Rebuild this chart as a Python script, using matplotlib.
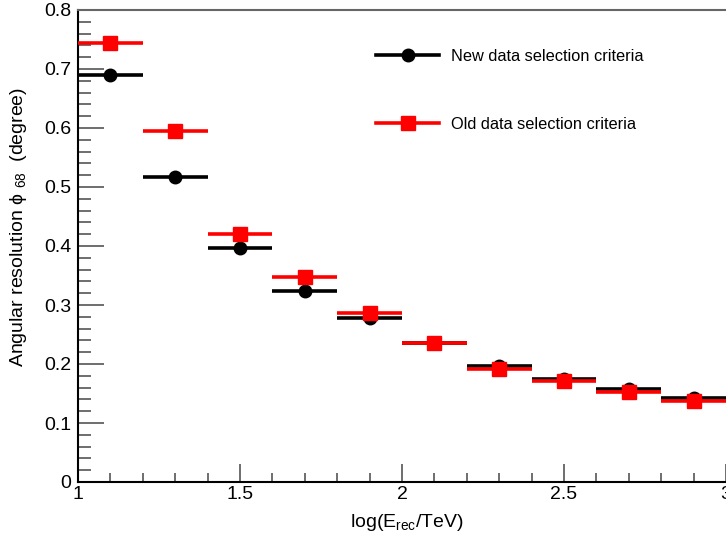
import matplotlib
matplotlib.use('Agg')

import matplotlib.pyplot as plt
from matplotlib.lines import Line2D
from matplotlib.ticker import MultipleLocator, FormatStrFormatter

# bin centres in log(E_rec/TeV), half width 0.1
log_e = [1.1, 1.3, 1.5, 1.7, 1.9, 2.1, 2.3, 2.5, 2.7, 2.9]
half_width = [0.1] * len(log_e)

res_new = [0.690, 0.517, 0.397, 0.324, 0.278, 0.236, 0.197, 0.175, 0.158, 0.142]
res_old = [0.744, 0.595, 0.420, 0.347, 0.286, 0.236, 0.192, 0.172, 0.153, 0.137]

plt.rcParams.update({'font.family': ['Liberation Sans', 'DejaVu Sans']})
plt.rcParams.update({'mathtext.fontset': 'custom',
                     'mathtext.rm': 'Liberation Sans',
                     'mathtext.it': 'Liberation Sans:italic'})
plt.rcParams.update({'font.size': 14})

fig = plt.figure(figsize=(7.26, 5.43), dpi=100)
ax = fig.add_axes([78 / 726, 61 / 543, 648 / 726, 472 / 543])

ax.errorbar(log_e, res_new, xerr=half_width, fmt='o', color='black',
            ms=9, elinewidth=2.6, capsize=0, zorder=2)
ax.errorbar(log_e, res_old, xerr=half_width, fmt='s', color='red',
            ms=10, elinewidth=2.6, capsize=0, zorder=3)

ax.set_xlim(1, 3)
ax.set_ylim(0, 0.8)

ax.xaxis.set_major_locator(MultipleLocator(0.5))
ax.xaxis.set_minor_locator(MultipleLocator(0.1))
ax.yaxis.set_major_locator(MultipleLocator(0.1))
ax.yaxis.set_minor_locator(MultipleLocator(0.02))
ax.xaxis.set_major_formatter(FormatStrFormatter('%g'))
ax.yaxis.set_major_formatter(FormatStrFormatter('%g'))

ax.tick_params(axis='both', which='both', direction='in', top=False, right=False,
               color='#555555', width=1.2, labelsize=14)
ax.tick_params(axis='y', which='major', length=19, pad=5)
ax.tick_params(axis='y', which='minor', length=9)
ax.tick_params(axis='x', which='major', length=13, pad=3)
ax.tick_params(axis='x', which='minor', length=6.5)

ax.spines['right'].set_visible(False)
ax.spines['top'].set_color('#666666')
ax.spines['top'].set_linewidth(1.5)
ax.spines['left'].set_linewidth(1.5)
ax.spines['bottom'].set_linewidth(1.5)

ax.set_xlabel(r'log(E$_{\rm rec}$/TeV)', fontsize=14)
ax.xaxis.set_label_coords(0.508, -0.064)
ax.set_ylabel(r'Angular resolution ϕ $_{\rm 68}$  (degree)', fontsize=14)
ax.yaxis.set_label_coords(-0.076, 0.54)

handles = [
    Line2D([], [], color='black', marker='o', ms=9, lw=2.6),
    Line2D([], [], color='red', marker='s', ms=10, lw=2.6),
]
ax.legend(handles, ['New data selection criteria', 'Old data selection criteria'],
          loc='upper left', bbox_to_anchor=(368 / 726, 1 - 41 / 543),
          bbox_transform=fig.transFigure, frameon=False, borderpad=0,
          handlelength=3.85, handletextpad=0.7, labelspacing=3.23,
          fontsize=11.8)

fig.savefig('out.png', dpi=100)
